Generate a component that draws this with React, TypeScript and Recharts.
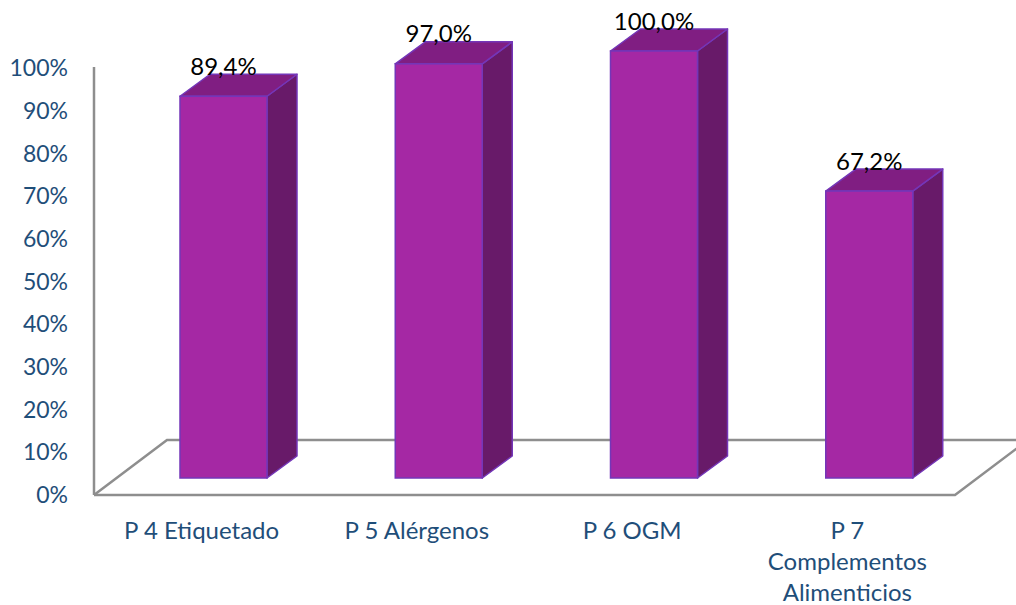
import React from "react";
import { BarChart, Bar, XAxis, YAxis, LabelList, Customized } from "recharts";

const categories = ["P 4 Etiquetado", "P 5 Alérgenos", "P 6 OGM", "P 7 Complementos Alimenticios"];
const values = [0.894, 0.97, 1.0, 0.672];
const valueLabels = ["89,4%", "97,0%", "100,0%", "67,2%"];
const yTicks = [0, 0.1, 0.2, 0.3, 0.4, 0.5, 0.6, 0.7, 0.8, 0.9, 1.0];

const data = categories.map((c, i) => ({ name: c, value: values[i], label: valueLabels[i] }));

const W = 1016;
const H = 605;
const XAXIS_H = 30;
const MARGIN = { top: 68, right: 61, bottom: 80, left: 0 };
const YAXIS_W = 94;
const PLOT_L = MARGIN.left + YAXIS_W;
const PLOT_R = W - MARGIN.right;
const PLOT_B = H - MARGIN.bottom - XAXIS_H;

// 3D geometry
const FLOOR_DX = 73;
const FLOOR_DY = 55;
const BAR_SHIFT_X = 22;
const BAR_SHIFT_Y = 17;
const BAR_DX = 30;
const BAR_DY = 22;

const FONT = "Lato, 'Open Sans', sans-serif";
const AXIS_COLOR = "#1F4E79";
const FLOOR_COLOR = "#8E8E8E";
const FRONT = "#A528A4";
const SIDE = "#681A69";
const TOP = "#801E82";
const EDGE = "#7436B8";
const MAX_LINE_CHARS = 14;

const wrapWords = (s: string): string[] => {
  const words = s.split(" ");
  const lines: string[] = [];
  let cur = "";
  for (const w of words) {
    const next = cur ? cur + " " + w : w;
    if (next.length > MAX_LINE_CHARS && cur) {
      lines.push(cur);
      cur = w;
    } else {
      cur = next;
    }
  }
  if (cur) lines.push(cur);
  return lines;
};

const Floor = () => (
  <g>
    <polyline
      points={`${PLOT_L},${PLOT_B} ${PLOT_L + FLOOR_DX},${PLOT_B - FLOOR_DY} ${PLOT_R + FLOOR_DX},${PLOT_B - FLOOR_DY}`}
      fill="none"
      stroke={FLOOR_COLOR}
      strokeWidth={2.5}
    />
    <polyline
      points={`${PLOT_L},${PLOT_B} ${PLOT_R},${PLOT_B} ${PLOT_R + FLOOR_DX},${PLOT_B - FLOOR_DY}`}
      fill="none"
      stroke={FLOOR_COLOR}
      strokeWidth={2.5}
    />
    <line x1={PLOT_L} y1={MARGIN.top - 1} x2={PLOT_L} y2={PLOT_B} stroke={FLOOR_COLOR} strokeWidth={2.5} />
  </g>
);

const Bar3D = (props: any) => {
  const { x, y, width, height } = props;
  if (width == null || height == null) return null;
  const fx = x + BAR_SHIFT_X;
  const fy = y - BAR_SHIFT_Y;
  const r = fx + width;
  const b = fy + height;
  return (
    <g>
      <polygon
        points={`${r},${fy} ${r + BAR_DX},${fy - BAR_DY} ${r + BAR_DX},${b - BAR_DY} ${r},${b}`}
        fill={SIDE}
        stroke={EDGE}
        strokeWidth={1.5}
        strokeLinejoin="round"
      />
      <polygon
        points={`${fx},${fy} ${fx + BAR_DX},${fy - BAR_DY} ${r + BAR_DX},${fy - BAR_DY} ${r},${fy}`}
        fill={TOP}
        stroke={EDGE}
        strokeWidth={1.5}
        strokeLinejoin="round"
      />
      <rect x={fx} y={fy} width={width} height={height} fill={FRONT} stroke={EDGE} strokeWidth={1.5} />
    </g>
  );
};

const ValueLabel = (props: any) => {
  const { x, y, width, value } = props;
  return (
    <text
      x={x + BAR_SHIFT_X + width / 2}
      y={y - BAR_SHIFT_Y - 31}
      textAnchor="middle"
      dominantBaseline="central"
      fontFamily={FONT}
      fontSize={24}
      fill="#000"
    >
      {value}
    </text>
  );
};

const XTick = (props: any) => {
  const { x, y, payload } = props;
  const lines = wrapWords(String(payload.value));
  return (
    <text x={x} y={y + 36} textAnchor="middle" fontFamily={FONT} fontSize={24} fill={AXIS_COLOR}>
      {lines.map((l, i) => (
        <tspan key={i} x={x} dy={i === 0 ? 0 : 31}>
          {l}
        </tspan>
      ))}
    </text>
  );
};

export default function App() {
  return (
    <div style={{ position: "absolute", left: 0, top: 0, width: W, height: H, background: "#fff" }}>
      <BarChart width={W} height={H} data={data} margin={MARGIN} barSize={87}>
        <Customized component={Floor} />
        <XAxis
          dataKey="name"
          height={XAXIS_H}
          axisLine={false}
          tickLine={false}
          interval={0}
          tick={<XTick />}
        />
        <YAxis
          width={YAXIS_W}
          domain={[0, 1]}
          ticks={yTicks}
          axisLine={false}
          tickLine={false}
          tickSize={6}
          tickMargin={20}
          tickFormatter={(v: number) => `${Math.round(v * 100)}%`}
          tick={{ fill: AXIS_COLOR, fontSize: 23, fontFamily: FONT }}
        />
        <Bar dataKey="value" shape={<Bar3D />} isAnimationActive={false}>
          <LabelList dataKey="label" content={<ValueLabel />} />
        </Bar>
      </BarChart>
    </div>
  );
}
